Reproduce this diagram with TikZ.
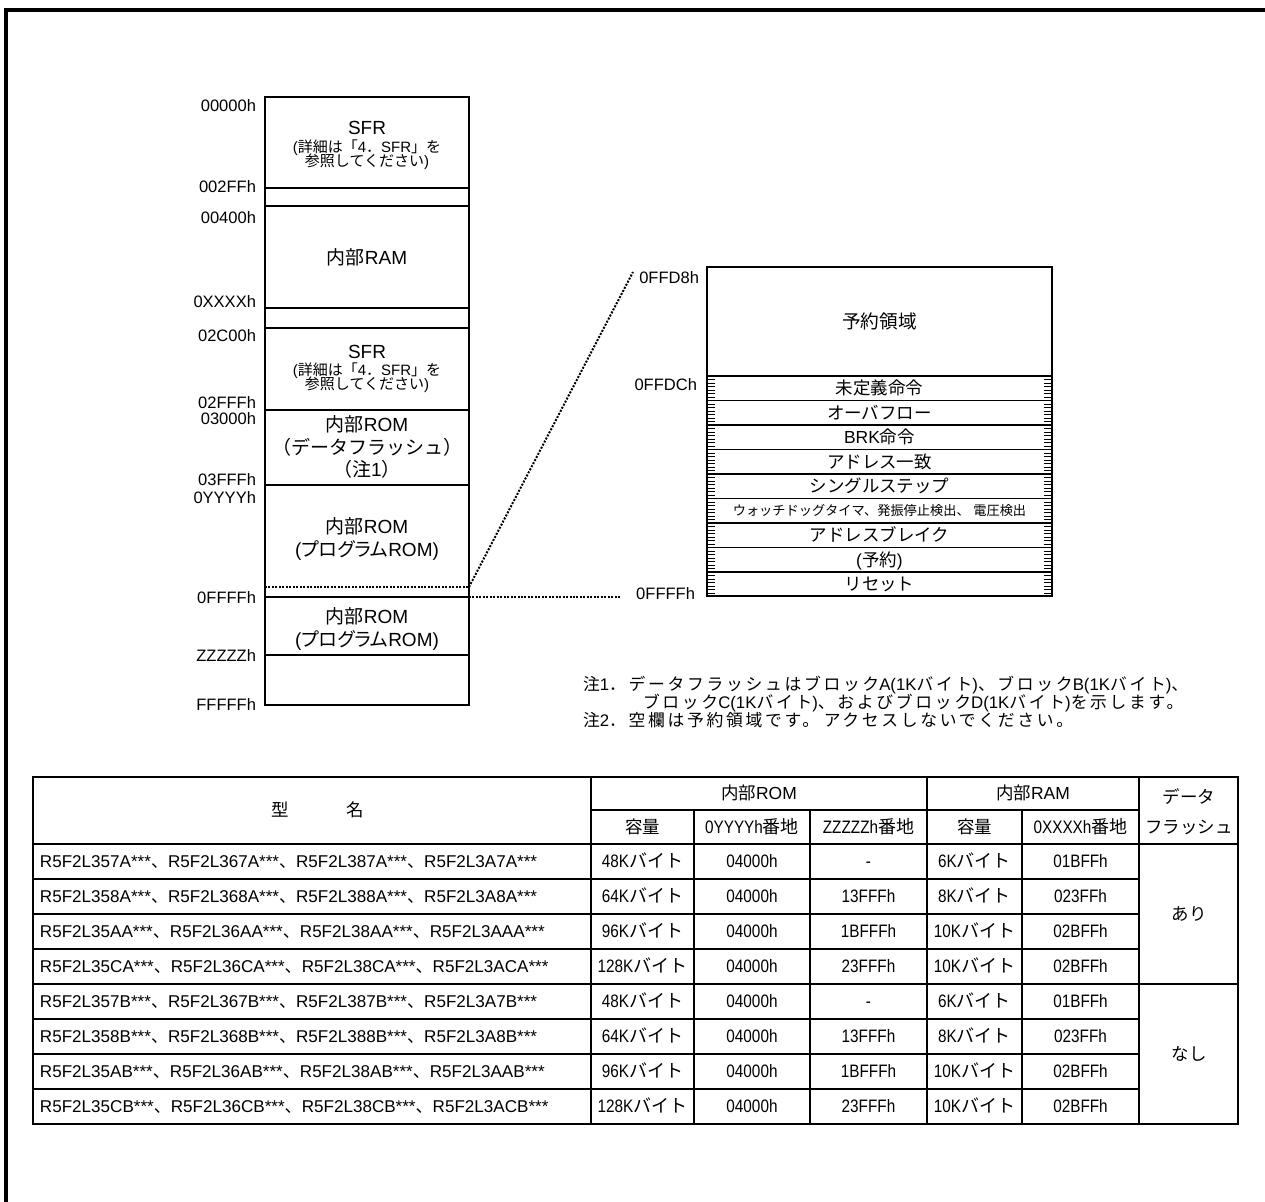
\documentclass[tikz,border=0pt]{standalone}
\usepackage{fontspec}
\setmainfont{Liberation Sans}
\newfontfamily\latfont{Liberation Sans}
\newfontfamily\latnarrow{Liberation Sans}[FakeStretch=0.85]
\newfontfamily\jppalt{Noto Sans CJK JP}[RawFeature=+palt]
\newfontfamily\jpfull{Noto Sans CJK JP}
\newfontfamily\jpspaced{Noto Sans CJK JP}[LetterSpace=16]
\def\jpcur{\jppalt}
\def\latcur{\latfont}
\def\fullmode{\def\jpcur{\jpfull}}
\def\narrowmode{\def\latcur{\latnarrow}\latnarrow}
\def\spacedmode{\def\jpcur{\jpspaced}}
\XeTeXinterchartokenstate=1
\newXeTeXintercharclass\CJKcls
\newcount\cjkcnt
\def\setcjkrange#1#2{\cjkcnt=#1\relax\loop\XeTeXcharclass\cjkcnt=\CJKcls\advance\cjkcnt by 1\relax\ifnum\cjkcnt<#2\relax\repeat}
\setcjkrange{"3000}{"3100}
\setcjkrange{"4E00}{"A000}
\setcjkrange{"FF00}{"FFF0}
\XeTeXinterchartoks 0 \CJKcls = {\jpcur}
\XeTeXinterchartoks 4095 \CJKcls = {\jpcur}
\XeTeXinterchartoks \CJKcls 0 = {\latcur}
\XeTeXinterchartoks \CJKcls 4095 = {\latcur}
\tikzset{
  every node/.style={inner sep=0pt, outer sep=0pt},
  lbl/.style={anchor=base east, font={\fontsize{12.4pt}{14pt}\selectfont}, yshift=-4.5pt},
  bt/.style={anchor=base, font={\fontsize{14.25pt}{16pt}\selectfont}, yshift=-5.1pt},
  btf/.style={anchor=base, font={\fontsize{14.25pt}{16pt}\selectfont\fullmode}, yshift=-5.1pt},
  st/.style={anchor=base, font={\fontsize{11.25pt}{13pt}\selectfont\fullmode}, yshift=-4pt},
  rt/.style={anchor=base, font={\fontsize{13.1pt}{15pt}\selectfont\fullmode}, yshift=-4.7pt},
  wt/.style={anchor=base, font={\fontsize{9.9pt}{12pt}\selectfont\fullmode}, yshift=-3.6pt},
  nt/.style={anchor=base west, font={\fontsize{12.6pt}{14pt}\selectfont\spacedmode}, yshift=-4.5pt},
  tt/.style={anchor=base, font={\fontsize{13.1pt}{15pt}\selectfont\fullmode}, yshift=-4.7pt},
  tn/.style={anchor=base, font={\fontsize{13.5pt}{15pt}\selectfont\fullmode\narrowmode}, yshift=-4.8pt},
  tl/.style={anchor=base west, font={\fontsize{12.8pt}{15pt}\selectfont\fullmode}, yshift=-4.6pt},
  mapthick/.style={line width=1.9pt},
  mapthin/.style={line width=0.9pt},
  dotline/.style={line width=1.5pt, dash pattern=on 1.5pt off 1.1pt},
  tbthick/.style={line width=1.8pt},
  tbthin/.style={line width=0.8pt},
  tick/.style={line width=0.55pt}
}
\begin{document}
\begin{tikzpicture}[x=0.75pt,y=-0.75pt]
\useasboundingbox (0,0) rectangle (1265,1202);
% outer frame
\draw[line width=2.6pt] (1275,10) -- (6,10) -- (6,1212);

% ---------------- left memory map ----------------
\foreach \yy in {188,206,308,328,410,485,597,655}
  \draw[mapthin] (265,\yy) -- (469,\yy);
\draw[dotline] (265,587) -- (469,587);
\draw[mapthick] (265,97) rectangle (469,705);

\node[lbl] (a0) at (256,106) {00000h};
\node[lbl] (a1) at (256,187) {002FFh};
\node[lbl] (a2) at (256,218) {00400h};
\node[lbl] (a3) at (256,302) {0XXXXh};
\node[lbl] (a4) at (256,335) {02C00h};
\node[lbl] (a5) at (256,402) {02FFFh};
\node[lbl] (a6) at (256,418) {03000h};
\node[lbl] (a7) at (256,479) {03FFFh};
\node[lbl] (a8) at (256,497) {0YYYYh};
\node[lbl] (a9) at (256,597) {0FFFFh};
\node[lbl] (a10) at (256,655) {ZZZZZh};
\node[lbl] (a11) at (256,704) {FFFFFh};

\node[bt] (sfr1) at (367,128) {SFR};
\node[st] (sfr1a) at (367,147) {(詳細は「4．SFR」を};
\node[st] (sfr1b) at (367,161) {参照してください)};
\node[bt] (ram) at (367,258) {内部RAM};
\node[bt] (sfr2) at (367,352) {SFR};
\node[st] (sfr2a) at (367,370) {(詳細は「4．SFR」を};
\node[st] (sfr2b) at (367,384) {参照してください)};
\node[bt] (df1) at (367,425) {内部ROM};
\node[btf] (df2) at (367,448) {（データフラッシュ）};
\node[btf] (df3) at (367,470) {（注1）};
\node[bt] (pr1) at (367,527) {内部ROM};
\node[bt] (pr2) at (367,550) {(プログラムROM)};
\node[bt] (pr3) at (367,617) {内部ROM};
\node[bt] (pr4) at (367,640) {(プログラムROM)};

% ---------------- connectors ----------------
\coordinate (dS) at (469,587);
\coordinate (dE) at (633,272);
\coordinate (hS) at (469,597);
\coordinate (hE) at (621,597);
\draw[dotline] (dS) -- (dE);
\draw[dotline] (hS) -- (hE);

% ---------------- right vector map ----------------
\foreach \i in {0,...,8}
  \draw[mapthin] (707,{376+24.5*\i}) -- (1052,{376+24.5*\i});
\foreach \i in {1,...,62} {
  \draw[tick] (707,{376+3.5*\i}) -- ++(8,0);
  \draw[tick] (1052,{376+3.5*\i}) -- ++(-8,0);
}
\draw[line width=1.1pt] (707,267) rectangle (1052,596);

\node[lbl] (b0) at (699,278) {0FFD8h};
\node[lbl] (b1) at (697,384) {0FFDCh};
\node[lbl] (b2) at (695,593) {0FFFFh};

\node[rt, font={\fontsize{14pt}{16pt}\selectfont}] (rsv) at (879.5,322) {予約領域};
\node[rt] (v0) at (879.5,388.25) {未定義命令};
\node[rt] (v1) at (879.5,412.75) {オーバフロー};
\node[rt] (v2) at (879.5,437.25) {BRK命令};
\node[rt] (v3) at (879.5,461.75) {アドレス一致};
\node[rt] (v4) at (879.5,486.25) {シングルステップ};
\node[wt] (v5) at (879.5,510.75) {ウォッチドッグタイマ、発振停止検出、 電圧検出};
\node[rt] (v6) at (879.5,535.25) {アドレスブレイク};
\node[rt] (v7) at (879.5,559.75) {(予約)};
\node[rt] (v8) at (879.5,584.25) {リセット};

% ---------------- notes ----------------
\node[nt] (n1) at (583,684) {注1．データフラッシュはブロックA(1Kバイト)、ブロックB(1Kバイト)、};
\node[nt] (n2) at (643,702) {ブロックC(1Kバイト)、およびブロックD(1Kバイト)を示します。};
\node[nt] (n3) at (583,720) {注2．空欄は予約領域です。 アクセスしないでください。};

% ---------------- table ----------------
\foreach \yy in {879,914,949,1019,1054,1089}
  \draw[tbthin] (33,\yy) -- (1139,\yy);
\draw[tbthin] (591,810) -- (1139,810);
\foreach \xx in {694,810,1022}
  \draw[tbthin] (\xx,810) -- (\xx,1124);
\draw[tbthin] (927,777) -- (927,1124);
\draw[tbthin] (1139,777) -- (1139,1124);
\draw[tbthick] (33,844) -- (1238,844);
\draw[tbthick] (33,984) -- (1238,984);
\draw[tbthick] (591,777) -- (591,1124);
\draw[tbthick] (33,777) rectangle (1238,1124);

\node[tt] (h0) at (318,810) {型\hspace{43pt}名};
\node[tt] (h1) at (759,793) {内部ROM};
\node[tt] (h2) at (1033,793) {内部RAM};
\node[tt] (h3) at (1189,797) {データ};
\node[tt] (h4) at (1189,827) {フラッシュ};
\node[tt] (h5) at (642.5,827) {容量};
\node[tn] (h6) at (752,827) {0YYYYh番地};
\node[tn] (h7) at (868.5,827) {ZZZZZh番地};
\node[tt] (h8) at (974.5,827) {容量};
\node[tn] (h9) at (1080.5,827) {0XXXXh番地};

\foreach \r/\m/\c/\z/\rc/\ra in {
 1/R5F2L357A***、R5F2L367A***、R5F2L387A***、R5F2L3A7A***/48Kバイト/-/6Kバイト/01BFFh,
 2/R5F2L358A***、R5F2L368A***、R5F2L388A***、R5F2L3A8A***/64Kバイト/13FFFh/8Kバイト/023FFh,
 3/R5F2L35AA***、R5F2L36AA***、R5F2L38AA***、R5F2L3AAA***/96Kバイト/1BFFFh/10Kバイト/02BFFh,
 4/R5F2L35CA***、R5F2L36CA***、R5F2L38CA***、R5F2L3ACA***/128Kバイト/23FFFh/10Kバイト/02BFFh,
 5/R5F2L357B***、R5F2L367B***、R5F2L387B***、R5F2L3A7B***/48Kバイト/-/6Kバイト/01BFFh,
 6/R5F2L358B***、R5F2L368B***、R5F2L388B***、R5F2L3A8B***/64Kバイト/13FFFh/8Kバイト/023FFh,
 7/R5F2L35AB***、R5F2L36AB***、R5F2L38AB***、R5F2L3AAB***/96Kバイト/1BFFFh/10Kバイト/02BFFh,
 8/R5F2L35CB***、R5F2L36CB***、R5F2L38CB***、R5F2L3ACB***/128Kバイト/23FFFh/10Kバイト/02BFFh}
{
  \pgfmathsetmacro\yc{844+35*\r-17.5}
  \node[tl] (m\r) at (40,\yc) {\m};
  \node[tn] (c\r) at (642.5,\yc) {\c};
  \node[tn] (y\r) at (752,\yc) {04000h};
  \node[tn] (z\r) at (868.5,\yc) {\z};
  \node[tn] (rc\r) at (974.5,\yc) {\rc};
  \node[tn] (ra\r) at (1080.5,\yc) {\ra};
}
\node[tt] (f1) at (1189,914) {あり};
\node[tt] (f2) at (1189,1054) {なし};
\end{tikzpicture}
\end{document}
